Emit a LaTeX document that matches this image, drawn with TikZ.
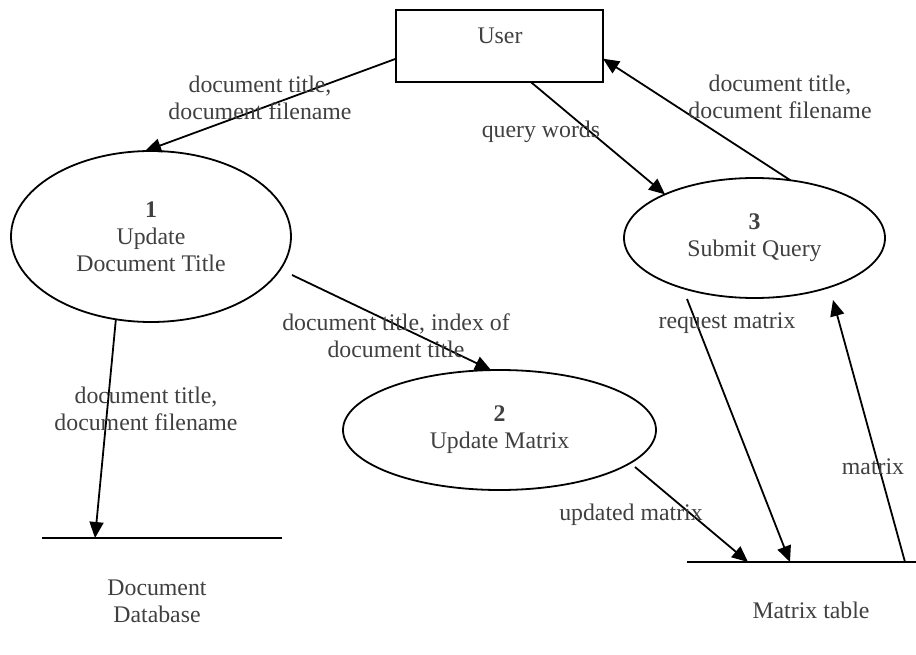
\documentclass[tikz,border=0pt]{standalone}
\usepackage{fontspec}
\setmainfont{Liberation Serif}
\usetikzlibrary{arrows.meta,shapes.geometric,calc}
\definecolor{txt}{HTML}{404040}
\tikzset{
  every node/.style={font=\fontsize{23.8}{27}\selectfont, text=txt, inner sep=0pt, outer sep=0pt},
  process/.style={ellipse, draw=black, line width=1.8pt, align=center},
  entity/.style={rectangle, draw=black, line width=1.8pt, minimum width=207pt, minimum height=72pt},
  store/.style={minimum height=0pt},
  storeline/.style={line width=1.9pt},
  flow/.style={line width=1.8pt, -{Triangle[length=16pt,width=14pt]}},
  lbl/.style={align=center}
}
\begin{document}
\begin{tikzpicture}[x=1pt,y=-1pt]
\useasboundingbox (0,0) rectangle (916,655);

% external entity
\node[entity] (user) at (499.5,46) {};
\node (usertxt) at (500,36) {User};

% processes
\node[process, minimum width=280pt, minimum height=171pt] (p1) at (151,236.5)
  {\textbf{1}\\Update\\Document Title};
\node[process, minimum width=313pt, minimum height=120pt] (p2) at (499.5,430)
  {\textbf{2}\\Update Matrix};
\node[process, minimum width=261pt, minimum height=120pt] (p3) at (754.5,238)
  {\textbf{3}\\Submit Query};

% data stores
\node[store, minimum width=240pt] (db) at (162,538) {};
\draw[storeline] (db.west) -- (db.east);
\node[lbl] (dbtxt) at (157,601) {Document\\Database};

\node[store, minimum width=229pt] (mt) at (801.5,562) {};
\draw[storeline] (mt.west) -- (mt.east);
\node (mttxt) at (811,610) {Matrix table};

% data flows
\draw[flow] (user.187.2) -- (p1.94);
\draw[flow] (user.-49.7) -- (p3.154.5);
\draw[flow] (p3.58.7) -- (user.-7.6);
\draw[flow] ($(p1.center)+(141pt,-38.5pt)$) -- (p2.98);
\draw[flow] (p1.247.4) -- ($(db.west)+(53pt,0pt)$);
\draw[flow] ($(p2.center)+(135.5pt,-37pt)$) -- ($(mt.west)+(61pt,0pt)$);
\draw[flow] ($(p3.center)+(-67.5pt,-61pt)$) -- ($(mt.west)+(103pt,0pt)$);
\draw[flow] ($(mt.west)+(218pt,0pt)$) -- ($(p3.center)+(78.5pt,-62pt)$);

% flow labels
\node[lbl] (l1) at (260,97.5) {document title,\\document filename};
\node (l2) at (541,132) {query words};
\node[lbl] (l3) at (780,96.5) {document title,\\document filename};
\node[lbl] (l4) at (396,336) {document title, index of\\document title};
\node[lbl] (l5) at (146,409) {document title,\\document filename};
\node (l6) at (631,515) {updated matrix};
\node (l7) at (727,323) {request matrix};
\node (l8) at (873,467) {matrix};
\end{tikzpicture}
\end{document}
